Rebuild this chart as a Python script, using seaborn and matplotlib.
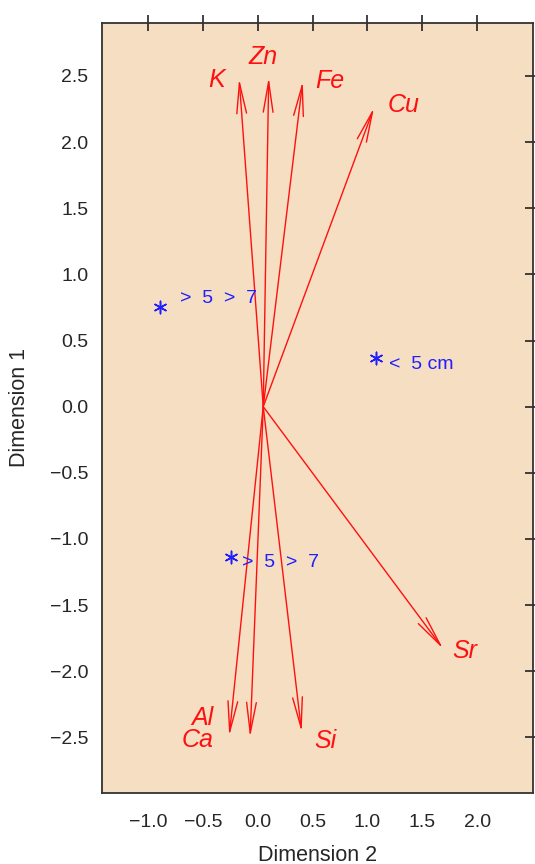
import numpy as np
import matplotlib
matplotlib.use("Agg")
import matplotlib.pyplot as plt
import seaborn as sns
import pandas as pd

# element vectors (Dimension 2 = x, Dimension 1 = y)
elements = ['K', 'Zn', 'Fe', 'Cu', 'Sr', 'Al', 'Ca', 'Si']
tip_x = [-0.17, 0.10, 0.41, 1.06, 1.69, -0.26, -0.07, 0.40]
tip_y = [2.48, 2.49, 2.46, 2.26, -1.83, -2.49, -2.50, -2.46]
label_x = [-0.38, 0.05, 0.66, 1.33, 1.89, -0.51, -0.55, 0.62]
label_y = [2.47, 2.64, 2.46, 2.28, -1.85, -2.35, -2.52, -2.53]
origin = (0.05, 0.0)

# group positions and their labels
group_names = ['>  5  >  7', '<  5 cm', '>  5  >  7']
group_x = [-0.89, 1.08, -0.24]
group_y = [0.75, 0.37, -1.14]
text_x = [-0.71, 1.20, -0.14]
text_y = [0.82, 0.32, -1.18]

sns.set_style("white")
plt.rcParams['font.family'] = ['Liberation Sans', 'DejaVu Sans']

fig = plt.figure(figsize=(5.35, 8.64), dpi=100)
ax = fig.add_axes([0.1907, 0.0822, 0.8056, 0.8912])
ax.set_facecolor('#F6DEC2')

for i, el in enumerate(elements):
    ax.annotate('', xy=(tip_x[i], tip_y[i]), xytext=origin,
                arrowprops=dict(arrowstyle='->,head_length=2.2,head_width=0.35',
                                color='#FF1010', lw=1.0, mutation_scale=10,
                                shrinkA=0, shrinkB=0))
    ax.text(label_x[i], label_y[i], el, color='#FF1010', fontsize=18,
            style='italic', ha='center', va='center')

groups = pd.DataFrame({'x': group_x, 'y': group_y, 'name': group_names})
sns.scatterplot(data=groups, x='x', y='y', ax=ax, marker=(6, 2, 0), s=80,
                color='#2020FF', linewidth=1.1, legend=False)
for i, name in enumerate(group_names):
    ax.text(text_x[i], text_y[i], name, color='#2020FF',
            fontsize=14, ha='left', va='center')

ax.set_xlim(-1.42, 2.51)
ax.set_ylim(-2.92, 2.90)
ax.set_xticks([-1.0, -0.5, 0.0, 0.5, 1.0, 1.5, 2.0])
ax.set_yticks([-2.5, -2.0, -1.5, -1.0, -0.5, 0.0, 0.5, 1.0, 1.5, 2.0, 2.5])
ax.set_xticklabels(['\u22121.0', '\u22120.5', '0.0', '0.5', '1.0', '1.5', '2.0'])
ax.set_yticklabels(['\u22122.5', '\u22122.0', '\u22121.5', '\u22121.0', '\u22120.5',
                    '0.0', '0.5', '1.0', '1.5', '2.0', '2.5'])
ax.tick_params(axis='both', which='both', direction='inout', length=12, width=1.2,
               color='#222222', labelsize=14, top=True, right=True,
               labeltop=False, labelright=False)
ax.tick_params(axis='x', pad=9)
ax.tick_params(axis='y', pad=4)
for sp in ax.spines.values():
    sp.set_color('#333333')
    sp.set_linewidth(1.3)
ax.set_xlabel('Dimension 2', fontsize=15.5, labelpad=10)
ax.set_ylabel('Dimension 1', fontsize=15.5, labelpad=14)

fig.savefig('out.png', dpi=100)
